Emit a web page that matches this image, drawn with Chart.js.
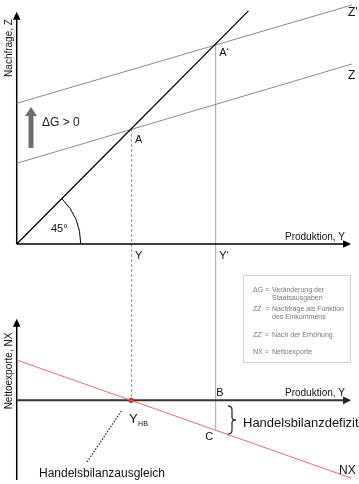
<!DOCTYPE html>
<html><head><meta charset="utf-8">
<script src="https://cdn.jsdelivr.net/npm/chart.js@4/dist/chart.umd.min.js"></script>
<style>html,body{margin:0;padding:0;background:#fff;overflow:hidden}canvas{display:block}</style>
</head><body>
<canvas id="c" width="359" height="484"></canvas>
<script>
// ---- Data (model units, origin = 0) ----
const zProduction = [0, 343];          // Produktion Y for the ZZ lines
const zDemand = [82, 183];             // ZZ
const zDemandPrime = [143, 243];       // ZZ'
const diagonalY = [0, 237];            // 45° line (Z = Y)
const nxProduction = [0, 342];
const nxValues = [41, -79];            // NX line
const pointA = [117, 117];             // A
const pointAPrime = [203, 202];        // A'
const nxAtYPrime = -30;                // C
const tradeBalanceY = [117];           // Y_HB
const tradeBalanceNX = [0];
const axisX = 342, axisZ = 236, axisNXTop = 83, axisNXBottom = -81;
const legendKeys = ['ΔG =', 'ZZ  =', "ZZ' =", 'NX ='];
const legendTexts = [['Veränderung der', 'Staatsausgaben'], ['Nachfrage als Funktion', 'des Einkommens'], ['Nach der Erhöhung'], ['Nettoexporte']];
const legendBaselines = [292, 311, 337, 354];

const FONT = '"Liberation Sans", Arial, Helvetica, sans-serif';
const pts = (xs, ys) => xs.map((v, i) => ({x: v, y: ys[i]}));

function arrowHead(ctx, tx, ty, dir, len, half) {
  ctx.beginPath();
  if (dir === 'up') { ctx.moveTo(tx, ty); ctx.lineTo(tx - half, ty + len); ctx.lineTo(tx + half, ty + len); }
  else { ctx.moveTo(tx, ty); ctx.lineTo(tx - len, ty - half); ctx.lineTo(tx - len, ty + half); }
  ctx.closePath(); ctx.fill();
}
function seg(ctx, x1, y1, x2, y2) { ctx.beginPath(); ctx.moveTo(x1, y1); ctx.lineTo(x2, y2); ctx.stroke(); }
function txt(ctx, s, x, y, size, color, align) {
  ctx.font = size + 'px ' + FONT; ctx.fillStyle = color || '#111'; ctx.textAlign = align || 'left';
  ctx.textBaseline = 'alphabetic'; ctx.fillText(s, x, y);
}

const diagramPlugin = {
  id: 'diagram',
  beforeDatasetsDraw(chart) {
    const {ctx, scales: {x, y, y2}} = chart;
    const X = v => x.getPixelForValue(v), Z = v => y.getPixelForValue(v), N = v => y2.getPixelForValue(v);
    ctx.save();
    // dashed vertical A -> Y_HB
    ctx.strokeStyle = '#8f8f8f'; ctx.lineWidth = 1; ctx.setLineDash([3, 2]);
    seg(ctx, X(pointA[0]) + 0.5, Z(pointA[1]), X(tradeBalanceY[0]) + 0.5, N(0));
    ctx.setLineDash([]);
    // solid vertical A' -> C
    ctx.strokeStyle = '#a3a3a3';
    seg(ctx, X(pointAPrime[0]) + 0.5, Z(pointAPrime[1]), X(pointAPrime[0]) + 0.5, N(nxAtYPrime));
    // 45° arc
    ctx.strokeStyle = '#000'; ctx.lineWidth = 1;
    ctx.beginPath(); ctx.arc(X(0), Z(0), 64, -Math.PI / 4, 0); ctx.stroke();
    // legend box
    ctx.strokeStyle = '#cfcfcf'; ctx.strokeRect(243.5, 275.5, 107, 87);
    // top axes
    ctx.strokeStyle = '#000'; ctx.fillStyle = '#000'; ctx.lineWidth = 1.5;
    seg(ctx, X(0), Z(0), X(0), Z(axisZ) + 7);
    arrowHead(ctx, X(0), Z(axisZ), 'up', 8, 3.8);
    seg(ctx, X(0), Z(0), X(axisX) - 7, Z(0));
    arrowHead(ctx, X(axisX), Z(0), 'right', 8, 3.8);
    // bottom axes
    seg(ctx, X(0), N(axisNXBottom), X(0), N(axisNXTop) + 7);
    arrowHead(ctx, X(0), N(axisNXTop), 'up', 8, 3.8);
    ctx.strokeStyle = '#333'; ctx.fillStyle = '#222'; ctx.lineWidth = 2;
    seg(ctx, X(0), N(0), X(axisX) - 7, N(0));
    arrowHead(ctx, X(axisX), N(0), 'right', 8, 3.8);
    ctx.restore();
  },
  afterDatasetsDraw(chart) {
    const {ctx, scales: {x, y, y2}} = chart;
    const X = v => x.getPixelForValue(v), Z = v => y.getPixelForValue(v), N = v => y2.getPixelForValue(v);
    ctx.save();
    // ΔG arrow
    ctx.fillStyle = '#6e6e6e';
    ctx.fillRect(28.5, 114, 5, 34);
    arrowHead(ctx, 31, 107, 'up', 9, 6);
    txt(ctx, 'ΔG > 0', 42, 126, 12, '#222');
    // axis titles
    ctx.save(); ctx.translate(X(0) - 5, 48); ctx.rotate(-Math.PI / 2);
    txt(ctx, 'Nachfrage, Z', 0, 0, 10, '#111', 'center'); ctx.restore();
    ctx.save(); ctx.translate(X(0) - 5, 371); ctx.rotate(-Math.PI / 2);
    txt(ctx, 'Nettoexporte, NX', 0, 0, 10, '#111', 'center'); ctx.restore();
    txt(ctx, 'Produktion, Y', 345, Z(0) - 4, 10, '#111', 'right');
    txt(ctx, 'Produktion, Y', 345, N(0) - 4, 10, '#111', 'right');
    // point labels
    txt(ctx, "Z'", 348, 16, 12, '#111');
    txt(ctx, 'Z', 348, 79, 12, '#111');
    txt(ctx, 'A‘', X(pointAPrime[0]) + 4, Z(pointAPrime[1]) + 11, 11, '#111');
    txt(ctx, 'A', X(pointA[0]) + 4, Z(pointA[1]) + 14, 11, '#111');
    txt(ctx, 'Y', X(pointA[0]) + 4, Z(0) + 15, 11, '#111');
    txt(ctx, 'Y‘', X(pointAPrime[0]) + 4, Z(0) + 15, 11, '#111');
    txt(ctx, '45°', 51, 232, 11, '#111');
    txt(ctx, 'B', X(pointAPrime[0]) + 1, N(0) - 4, 11, '#111');
    txt(ctx, 'C', X(pointAPrime[0]) - 10, N(nxAtYPrime) + 10, 11, '#111');
    txt(ctx, 'NX', 339, 474, 12, '#111');
    txt(ctx, 'Y', X(tradeBalanceY[0]) - 2, 423, 13, '#111');
    txt(ctx, 'HB', X(tradeBalanceY[0]) + 7, 426, 7, '#111');
    txt(ctx, 'Handelsbilanzausgleich', 102, 477, 12, '#111', 'center');
    txt(ctx, 'Handelsbilanzdefizit', 243, 427, 13, '#111');
    // dotted pointer
    ctx.strokeStyle = '#222'; ctx.lineWidth = 1.2; ctx.setLineDash([1.5, 1.5]);
    seg(ctx, 87, 462, 122, 410); ctx.setLineDash([]);
    // brace
    ctx.strokeStyle = '#333'; ctx.lineWidth = 1.3;
    const bx = 228, bt = 406, bb = 434, bm = (bt + bb) / 2;
    ctx.beginPath();
    ctx.moveTo(bx, bt);
    ctx.quadraticCurveTo(bx + 4, bt, bx + 4, bt + 4);
    ctx.lineTo(bx + 4, bm - 3);
    ctx.quadraticCurveTo(bx + 4, bm, bx + 8, bm);
    ctx.quadraticCurveTo(bx + 4, bm, bx + 4, bm + 3);
    ctx.lineTo(bx + 4, bb - 4);
    ctx.quadraticCurveTo(bx + 4, bb, bx, bb);
    ctx.stroke();
    // legend
    legendKeys.forEach((k, i) => {
      txt(ctx, k, 253, legendBaselines[i], 7, '#777');
      legendTexts[i].forEach((t, j) => txt(ctx, t, 272, legendBaselines[i] + j * 8, 7, '#777'));
    });
    ctx.restore();
  }
};

new Chart(document.getElementById('c'), {
  type: 'scatter',
  data: {
    datasets: [
      {data: pts(diagonalY, diagonalY), showLine: true, borderColor: '#000', borderWidth: 1.3, pointRadius: 0, yAxisID: 'y'},
      {data: pts(zProduction, zDemand), showLine: true, borderColor: '#8a8a8a', borderWidth: 1, pointRadius: 0, yAxisID: 'y'},
      {data: pts(zProduction, zDemandPrime), showLine: true, borderColor: '#8a8a8a', borderWidth: 1, pointRadius: 0, yAxisID: 'y'},
      {data: pts(nxProduction, nxValues), showLine: true, borderColor: '#e46a6a', borderWidth: 1, pointRadius: 0, yAxisID: 'y2'},
      {data: pts(tradeBalanceY, tradeBalanceNX), showLine: false, pointRadius: 2.6, backgroundColor: '#e3201b', borderWidth: 0, yAxisID: 'y2'}
    ]
  },
  options: {
    responsive: false, animation: false, events: [],
    layout: {padding: 0},
    plugins: {legend: {display: false}, tooltip: {enabled: false}},
    scales: {
      x: {type: 'linear', min: -13, max: 346, display: false},
      y: {type: 'linear', min: -240, max: 244, display: false},
      y2: {type: 'linear', min: -81, max: 403, display: false}
    }
  },
  plugins: [diagramPlugin]
});
</script>
</body></html>
